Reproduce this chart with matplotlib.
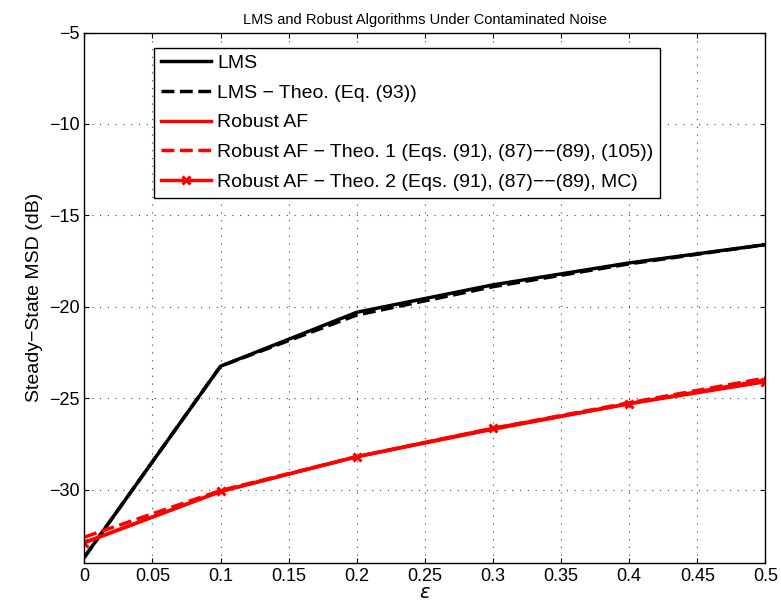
import numpy as np
import matplotlib
matplotlib.use('Agg')
import matplotlib.pyplot as plt

plt.rcParams['font.family'] = ['Liberation Sans', 'DejaVu Sans']

eps = [0, 0.1, 0.2, 0.3, 0.4, 0.5]
lms = [-33.7, -23.25, -20.3, -18.8, -17.6, -16.6]
lms_theo = [-33.7, -23.25, -20.45, -18.9, -17.65, -16.6]
robust = [-32.9, -30.1, -28.2, -26.7, -25.3, -24.0]
robust_theo1 = [-32.6, -30.05, -28.2, -26.65, -25.25, -23.9]
robust_theo2 = [-32.9, -30.1, -28.2, -26.65, -25.3, -24.1]

fig = plt.figure(figsize=(7.81, 6.15), dpi=100)
ax = fig.add_axes([0.108, 0.085, 0.872, 0.862])

ax.plot(eps, lms, color='black', lw=2.5, label='LMS')
ax.plot(eps, lms_theo, color='black', lw=2.5, ls='--', label='LMS \u2212 Theo. (Eq. (93))')
ax.plot(eps, robust, color='red', lw=2.5, label='Robust AF')
ax.plot(eps, robust_theo1, color='red', lw=2.5, ls='--',
        label='Robust AF \u2212 Theo. 1 (Eqs. (91), (87)\u2212\u2212(89), (105))')
ax.plot(eps, robust_theo2, color='red', lw=2.5, marker='x', ms=6, mew=2.2,
        label='Robust AF \u2212 Theo. 2 (Eqs. (91), (87)\u2212\u2212(89), MC)')

ax.set_xlim(0, 0.5)
ax.set_ylim(-34, -5)
ax.set_xticks(np.arange(0, 0.51, 0.05))
ax.set_xticklabels(['0', '0.05', '0.1', '0.15', '0.2', '0.25', '0.3', '0.35', '0.4', '0.45', '0.5'])
ax.set_yticks([-30, -25, -20, -15, -10, -5])
ax.tick_params(labelsize=13, direction='in', top=True, right=True)
ax.grid(True, color='#444444', lw=0.8, dashes=(1, 6))
for s in ax.spines.values():
    s.set_linewidth(1.0)

ax.set_xlabel(r'$\varepsilon$', fontsize=14, labelpad=0)
ax.set_ylabel('Steady\u2212State MSD (dB)', fontsize=14)
ax.set_title('LMS and Robust Algorithms Under Contaminated Noise', fontsize=10.5, pad=6)

leg = ax.legend(loc='upper left', bbox_to_anchor=(0.088, 0.99), fontsize=14,
                fancybox=False, edgecolor='black', framealpha=1,
                handlelength=2.6, borderpad=0.35, labelspacing=0.62, handletextpad=0.3)
leg.get_frame().set_linewidth(1.0)

fig.savefig('out.png', dpi=100)
